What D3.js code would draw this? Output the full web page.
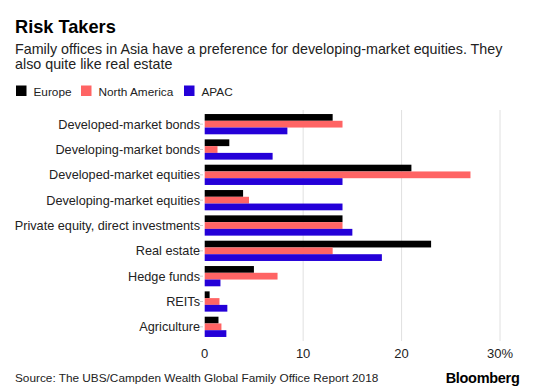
<!DOCTYPE html>
<html><head><meta charset="utf-8">
<script src="https://cdn.jsdelivr.net/npm/d3@7"></script>
<style>
body{margin:0;background:#fff;}
text{font-family:"Liberation Sans",Arial,Helvetica,sans-serif;}
</style></head>
<body>
<svg id="c" width="560" height="392"></svg>
<script>
const categories = ["Developed-market bonds","Developing-market bonds","Developed-market equities","Developing-market equities","Private equity, direct investments","Real estate","Hedge funds","REITs","Agriculture"];
const seriesNames = ["Europe","North America","APAC"];
const europe = [13, 2.5, 21, 3.9, 14, 23, 5, 0.5, 1.4];
const northAmerica = [14, 1.3, 27, 4.5, 14, 13, 7.4, 1.5, 1.7];
const apac = [8.4, 6.9, 14, 14, 15, 18, 1.6, 2.3, 2.2];
const tickValues = [0, 10, 20, 30];
const tickLabels = ["0", "10", "20", "30%"];
const colors = ["#000000", "#ff6464", "#2400d8"];

const series = [europe, northAmerica, apac];
const svg = d3.select("#c");

svg.append("text").attr("x",15).attr("y",32.5).attr("font-size",18.2).attr("font-weight","bold").attr("fill","#000").text("Risk Takers");
const sub = svg.append("text").attr("font-size",14.3).attr("fill","#222");
sub.append("tspan").attr("x",15).attr("y",54).text("Family offices in Asia have a preference for developing-market equities. They");
sub.append("tspan").attr("x",15).attr("y",68.5).text("also quite like real estate");

const legX = [16, 81, 184];
seriesNames.forEach((n,i)=>{
  svg.append("rect").attr("x",legX[i]).attr("y",85.5).attr("width",10.5).attr("height",10.5).attr("fill",colors[i]);
  svg.append("text").attr("x",legX[i]+17.5).attr("y",95.5).attr("font-size",11.8).attr("fill","#222").text(n);
});

const x = d3.scaleLinear().domain([0,30]).range([204.7,500]);
const y = d3.scaleBand().domain(categories).range([111.5,339.5]).paddingInner(0.2).paddingOuter(0.1);
const ySub = d3.scaleBand().domain(seriesNames).range([0,y.bandwidth()]);

// gridlines
svg.append("g").selectAll("line").data(tickValues.filter(v=>v>0)).join("line")
  .attr("x1",d=>x(d)).attr("x2",d=>x(d)).attr("y1",110).attr("y2",341)
  .attr("stroke","#e0e0e0").attr("stroke-width",1);

// y tick marks
svg.append("g").selectAll("line").data(categories).join("line")
  .attr("x1",200).attr("x2",203).attr("y1",d=>y(d)+y.bandwidth()/2).attr("y2",d=>y(d)+y.bandwidth()/2)
  .attr("stroke","#ccc").attr("stroke-width",1);

// bars
const g = svg.append("g");
series.forEach((vals,i)=>{
  g.append("g").selectAll("rect").data(categories).join("rect")
    .attr("x",x(0))
    .attr("y",(d)=>y(d)+ySub(seriesNames[i]))
    .attr("width",(d,j)=>x(vals[j])-x(0))
    .attr("height",ySub.bandwidth())
    .attr("fill",colors[i]);
});

// category labels
svg.append("g").selectAll("text").data(categories).join("text")
  .attr("x",200).attr("y",d=>y(d)+y.bandwidth()/2+4.5)
  .attr("text-anchor","end").attr("font-size",12.7).attr("fill","#222").text(d=>d);

// x labels
svg.append("g").selectAll("text").data(tickValues).join("text")
  .attr("x",d=>x(d)).attr("y",358).attr("text-anchor","middle")
  .attr("font-size",13).attr("fill","#222").text((d,i)=>tickLabels[i]);

svg.append("text").attr("x",15).attr("y",382).attr("font-size",11.8).attr("fill","#222")
  .text("Source: The UBS/Campden Wealth Global Family Office Report 2018");
svg.append("text").attr("x",519.5).attr("y",382.5).attr("text-anchor","end").attr("font-size",14.5).attr("font-weight","bold").attr("fill","#000")
  .attr("letter-spacing","-0.3").text("Bloomberg");
</script>
</body></html>
